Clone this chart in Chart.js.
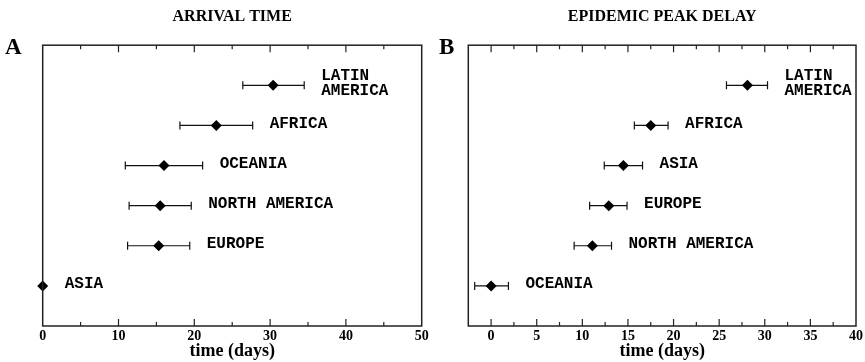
<!DOCTYPE html>
<html>
<head>
<meta charset="utf-8">
<script src="https://cdn.jsdelivr.net/npm/chart.js@4.4.1/dist/chart.umd.min.js"></script>
<style>
  html, body { margin: 0; padding: 0; background: #fff; }
  #wrap { position: relative; width: 865px; height: 362px; }
  #chartA, #chartB { position: absolute; top: 0; }
  #chartA { left: 0; }
  #chartB { left: 432px; }
</style>
</head>
<body>
<div id="wrap">
  <canvas id="chartA" width="432" height="362"></canvas>
  <canvas id="chartB" width="433" height="362"></canvas>
</div>
<script>
// --- data (top row first)
const arrivalRegions = ["LATIN\nAMERICA", "AFRICA", "OCEANIA", "NORTH AMERICA", "EUROPE", "ASIA"];
const arrivalMean = [30.4, 22.9, 16.0, 15.5, 15.3, 0];
const arrivalLow  = [26.4, 18.1, 10.9, 11.4, 11.2, 0];
const arrivalHigh = [34.5, 27.7, 21.1, 19.6, 19.4, 0];

const peakRegions = ["LATIN\nAMERICA", "AFRICA", "ASIA", "EUROPE", "NORTH AMERICA", "OCEANIA"];
const peakMean = [28.1, 17.5, 14.5, 12.9, 11.1, 0];
const peakLow  = [25.8, 15.7, 12.4, 10.8, 9.1, -1.8];
const peakHigh = [30.3, 19.4, 16.6, 14.9, 13.2, 1.9];

Chart.defaults.font.family = "'Liberation Serif', 'Times New Roman', serif";
Chart.defaults.color = "#000";

// error bars, region labels, frame and inward ticks
const errorBars = {
  id: "errorBars",
  beforeDatasetsDraw(chart, args, o) {
    const { ctx } = chart;
    const x = chart.scales.x, y = chart.scales.y;
    const n = o.low.length;
    ctx.save();
    ctx.strokeStyle = "#111";
    ctx.lineWidth = 1.2;
    o.low.forEach((lo, i) => {
      const hi = o.high[i];
      if (lo === hi) return;
      const py = y.getPixelForValue(n - i);
      const x0 = x.getPixelForValue(lo), x1 = x.getPixelForValue(hi);
      ctx.beginPath();
      ctx.moveTo(x0, py); ctx.lineTo(x1, py);
      ctx.moveTo(x0, py - 4); ctx.lineTo(x0, py + 4);
      ctx.moveTo(x1, py - 4); ctx.lineTo(x1, py + 4);
      ctx.stroke();
    });
    ctx.restore();
  },
  afterDraw(chart, args, o) {
    const { ctx, chartArea: a } = chart;
    const x = chart.scales.x, y = chart.scales.y;
    const n = o.low.length;
    ctx.save();
    // labels
    ctx.fillStyle = "#000";
    ctx.font = "bold 16px 'Liberation Mono', 'Courier New', monospace";
    ctx.textBaseline = "middle";
    ctx.textAlign = "left";
    o.labels.forEach((txt, i) => {
      const py = y.getPixelForValue(n - i);
      const px = Math.max(x.getPixelForValue(o.high[i]), x.getPixelForValue(o.mean[i]) + 5) + 17;
      const lines = txt.split("\n");
      const lh = 14.7;
      const top = py - 1.5 - (lines.length - 1) * lh / 2;
      lines.forEach((l, k) => ctx.fillText(l, px, top + k * lh));
    });
    // frame
    ctx.strokeStyle = "#222";
    ctx.lineWidth = 1.5;
    ctx.strokeRect(a.left, a.top, a.right - a.left, a.bottom - a.top);
    // inward ticks top & bottom
    ctx.lineWidth = 1.2;
    ctx.beginPath();
    x.ticks.forEach(t => {
      if (t.value <= x.min || t.value >= x.max) return;
      const px = x.getPixelForValue(t.value);
      const len = t.label !== "" ? 7 : 4;
      ctx.moveTo(px, a.bottom); ctx.lineTo(px, a.bottom - len);
      ctx.moveTo(px, a.top); ctx.lineTo(px, a.top + len);
    });
    ctx.stroke();
    // panel letter
    ctx.font = "bold 23px 'Liberation Serif', serif";
    ctx.textBaseline = "alphabetic";
    ctx.fillText(o.letter, o.letterX, 53.5);
    ctx.restore();
  }
};

function makePanel(el, cfg) {
  const n = cfg.mean.length;
  return new Chart(el, {
    type: "scatter",
    data: {
      datasets: [{
        data: cfg.mean.map((v, i) => ({ x: v, y: n - i })),
        pointStyle: "rectRot",
        pointRadius: 5.5,
        pointHoverRadius: 5.5,
        backgroundColor: "#000",
        borderWidth: 0,
        clip: false
      }]
    },
    options: {
      responsive: false,
      animation: false,
      layout: { padding: { left: cfg.padL, right: cfg.padR, top: 0, bottom: 0 } },
      plugins: {
        legend: { display: false },
        tooltip: { enabled: false },
        title: {
          display: true,
          text: cfg.title,
          color: "#000",
          font: { size: 16, weight: "bold" },
          padding: { top: 7, bottom: 19 }
        },
        errorBars: {
          low: cfg.low, high: cfg.high, mean: cfg.mean, labels: cfg.labels,
          letter: cfg.letter, letterX: cfg.letterX
        }
      },
      scales: {
        x: {
          type: "linear",
          min: cfg.min,
          max: cfg.max,
          grid: { display: false, drawTicks: false, tickLength: 0 },
          border: { display: false },
          ticks: {
            stepSize: cfg.step,
            autoSkip: false,
            maxRotation: 0,
            padding: 2,
            color: "#000",
            font: { size: 14, weight: "bold" },
            callback: v => (v % cfg.labelEvery === 0 ? v : "")
          },
          title: {
            display: true,
            text: "time (days)",
            color: "#000",
            font: { size: 18, weight: "bold" },
            padding: 0
          },
          afterFit: s => { s.height = 36; }
        },
        y: { display: false, min: 0, max: 7 }
      }
    },
    plugins: [errorBars]
  });
}

makePanel(document.getElementById("chartA"), {
  title: "ARRIVAL TIME", letter: "A", letterX: 5,
  labels: arrivalRegions, mean: arrivalMean, low: arrivalLow, high: arrivalHigh,
  min: 0, max: 50, step: 5, labelEvery: 10, padL: 42.7, padR: 10.3
});

makePanel(document.getElementById("chartB"), {
  title: "EPIDEMIC PEAK DELAY", letter: "B", letterX: 7,
  labels: peakRegions, mean: peakMean, low: peakLow, high: peakHigh,
  min: -2.5, max: 40, step: 2.5, labelEvery: 5, padL: 36.3, padR: 9
});
</script>
</body>
</html>
